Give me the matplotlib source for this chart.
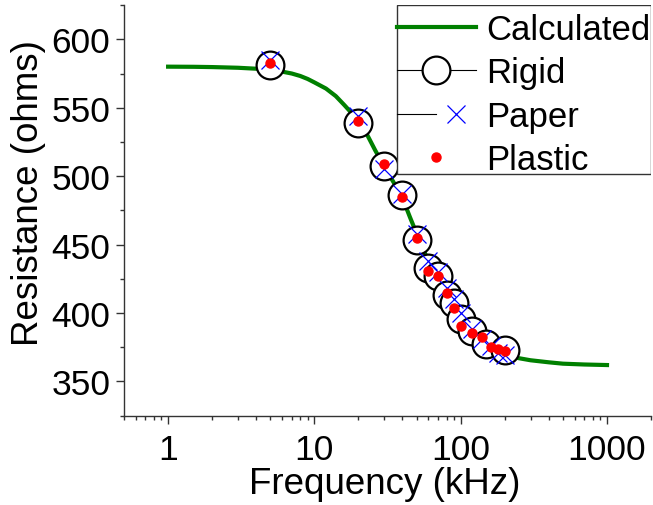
import matplotlib

matplotlib.use("Agg")
import matplotlib.pyplot as plt
from matplotlib.legend_handler import HandlerTuple
from matplotlib.lines import Line2D
from matplotlib.patches import Rectangle
from matplotlib.ticker import FixedLocator, LogLocator, NullFormatter

plt.rcParams["font.family"] = ["Liberation Sans", "DejaVu Sans"]

# calculated resistance curve (kHz, ohms)
calc_freq = [1, 1.5, 2, 3, 4, 5, 6, 7, 8, 9, 10, 12, 14, 16, 18, 20, 23, 26,
             30, 35, 40, 45, 50, 60, 70, 80, 90, 100, 120, 140, 160, 180, 200,
             250, 300, 400, 500, 700, 1000]
calc_res = [580, 579.9, 579.7, 579.2, 578.5, 577.6, 576.4, 575, 573.2, 571,
            568.5, 564, 558.5, 552, 546, 539.5, 530, 519, 507, 495, 484, 470,
            458, 438, 422, 410, 401, 394, 384, 378, 374, 371, 369.5, 367,
            365.5, 364, 363, 362.4, 362]

# measured points
rigid_freq = [5, 20, 30, 40, 50, 60, 70, 80, 90, 100, 120, 150, 200]
rigid_res = [581.5, 538.5, 507.5, 486, 453, 433, 427, 413, 407, 396, 387, 377.5, 373]

paper_freq = [5, 20, 30, 40, 50, 60, 70, 80, 90, 100, 120, 140, 160, 180, 200]
paper_res = [585, 544, 505, 487, 458, 438, 430, 418, 410, 400, 388, 381, 376, 371, 369]

plastic_freq = [5, 20, 30, 40, 50, 60, 70, 80, 90, 100, 120, 140, 160, 180, 200]
plastic_res = [583, 540, 509, 485, 455, 431, 427, 415, 404, 390.5, 385.5, 382.5,
               375.5, 373.5, 372.5]

W, H = 653, 506
fig = plt.figure(figsize=(W / 100, H / 100), dpi=100)
ax = fig.add_axes([0.19, 0.1765, 0.807, 0.8115])

ax.plot(calc_freq, calc_res, color="#008000", lw=3, zorder=2)
ax.plot(rigid_freq, rigid_res, ls="none", marker="o", ms=20, mfc="white",
        mec="black", mew=1.6, zorder=3)
ax.plot(paper_freq, paper_res, ls="none", marker="x", ms=13, mec="#0000ff",
        mew=0.9, zorder=4)
ax.plot(plastic_freq, plastic_res, ls="none", marker="o", ms=6.5, mfc="#ff0000",
        mec="#ff0000", zorder=5)

ax.set_xscale("log")
ax.set_xlim(0.5, 2000)
ax.set_ylim(325, 625)
ax.xaxis.set_major_locator(FixedLocator([1, 10, 100, 1000]))
ax.set_xticklabels(["1", "10", "100", "1000"])
ax.xaxis.set_minor_locator(LogLocator(base=10, subs=range(2, 10)))
ax.xaxis.set_minor_formatter(NullFormatter())
ax.set_yticks([350, 400, 450, 500, 550, 600])
ax.set_yticks(range(325, 626, 25), minor=True)

for side in ("top", "right"):
    ax.spines[side].set_visible(False)
for side in ("left", "bottom"):
    ax.spines[side].set_linewidth(1.0)
    ax.spines[side].set_color("#333333")

ax.tick_params(which="major", length=6, width=1.0, color="#333333",
               labelsize=25.5)
ax.tick_params(axis="y", which="major", pad=4)
ax.tick_params(axis="x", which="major", pad=6.5)
ax.tick_params(which="minor", length=3, width=1.0, color="#333333")

ax.set_xlabel("Frequency (kHz)", fontsize=26.5)
ax.xaxis.set_label_coords(0.494, -0.1217)
ax.set_ylabel("Resistance (ohms)", fontsize=26.5)
ax.yaxis.set_label_coords(-0.148, 0.545)

# legend box drawn separately so it hugs the last entry
box = Rectangle((397 / W, 1 - 174.5 / H), 254 / W, 168.5 / H,
                transform=fig.transFigure, facecolor="white",
                edgecolor="#333333", lw=1.0, zorder=6)
ax.add_patch(box)

h_calc = Line2D([], [], color="#008000", lw=3)
h_rigid = Line2D([], [], color="black", lw=0.8, marker="o", ms=20, mfc="white",
                 mec="black", mew=1.6)
h_paper = (Line2D([], [], color="black", lw=0.8),
           Line2D([], [], ls="none", marker="x", ms=13, mec="#0000ff", mew=0.9))
h_plastic = Line2D([], [], ls="none", marker="o", ms=6.5, mfc="#ff0000",
                   mec="#ff0000")
leg = ax.legend([h_calc, h_rigid, h_paper, h_plastic],
                ["Calculated", "Rigid", "Paper", "Plastic"],
                handler_map={tuple: HandlerTuple(ndivide=None, pad=0)},
                loc="upper right", bbox_to_anchor=(1.0 - 1 / 527, 1.0 - 8 / 411),
                fontsize=25, frameon=False, borderaxespad=0, borderpad=0,
                handlelength=2.28, handletextpad=0.29, labelspacing=0.3,
                numpoints=1)
leg.set_zorder(7)

fig.savefig("out.png", dpi=100)
